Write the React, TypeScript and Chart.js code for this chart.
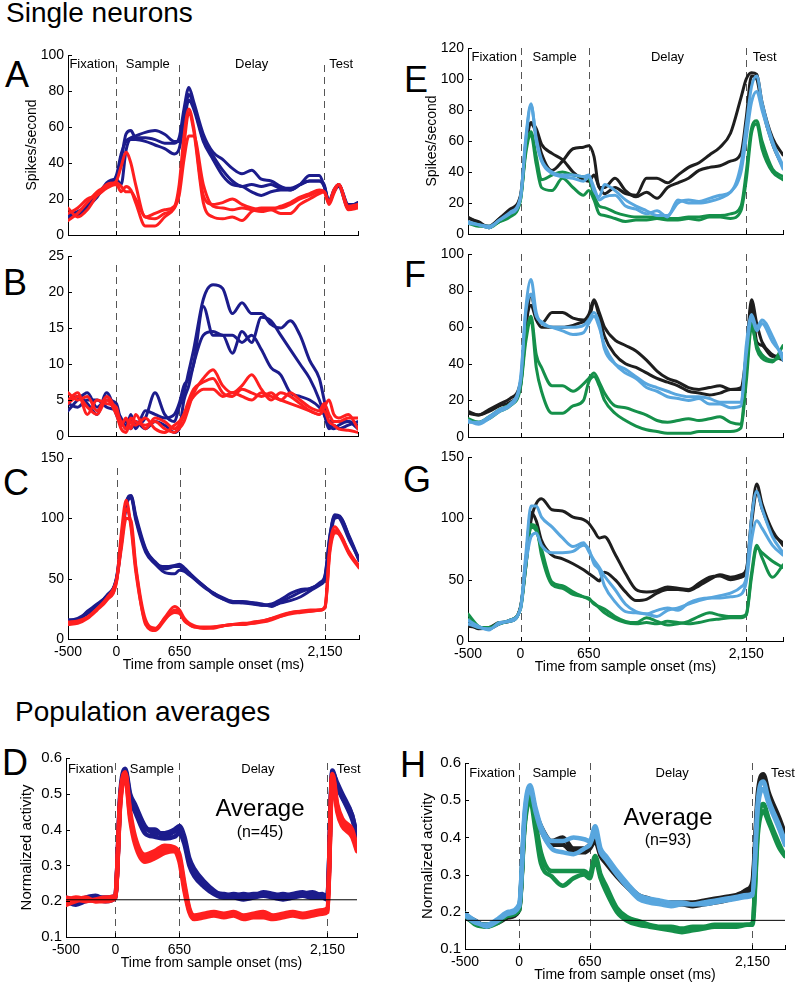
import React, { useEffect, useRef } from "react";
import { Chart, registerables } from "chart.js";

Chart.register(...registerables);

const FONT = '"Liberation Sans", Arial, Helvetica, sans-serif';

// ---------- time grids & axis ticks ----------
const TIME_MS = [-500, -400, -300, -200, -100, 0, 50, 100, 150, 200, 300, 400, 500, 600, 650, 700, 750, 800, 900, 1000, 1100, 1200, 1300, 1400, 1500, 1600, 1700, 1800, 1900, 2000, 2100, 2150, 2200, 2250, 2300, 2400, 2500];
const TIME_POP_MS = [-500, -400, -300, -200, -100, 0, 50, 100, 150, 200, 300, 400, 500, 600, 650, 700, 750, 800, 900, 1000, 1100, 1200, 1300, 1400, 1500, 1600, 1700, 1800, 1900, 2000, 2100, 2150, 2200, 2250, 2300, 2400, 2450];
const X_TICKS = [-500, 0, 650, 2150];
const X_TICK_LABELS = ["-500", "0", "650", "2,150"];
const EVENT_TIMES = [0, 650, 2150];
const PHASE_NAMES = ["Fixation", "Sample", "Delay", "Test"];

// ---------- Panel A (spikes/s) ----------
const A_BLUE_1 = [10, 12, 17, 23, 28, 32, 42, 56, 58, 54, 54, 53, 51, 51, 54, 70, 82, 74, 56, 46, 42, 37, 34, 36, 31, 30, 27, 25, 28, 33, 33, 27, 19, 25, 28, 16, 18];
const A_BLUE_2 = [12, 11, 15, 22, 27, 33, 45, 52, 54, 55, 57, 58, 56, 52, 52, 66, 78, 72, 53, 44, 36, 30, 27, 28, 27, 28, 26, 26, 28, 30, 30, 28, 18, 24, 28, 17, 17];
const A_BLUE_3 = [11, 13, 16, 21, 29, 31, 28, 47, 53, 53, 52, 50, 48, 45, 48, 62, 75, 70, 52, 42, 33, 28, 27, 24, 22, 24, 25, 25, 28, 30, 30, 27, 18, 24, 27, 15, 18];
const A_RED_1 = [8, 12, 18, 24, 27, 30, 38, 46, 40, 28, 10, 12, 14, 16, 28, 55, 70, 60, 22, 17, 18, 20, 17, 15, 14, 14, 16, 18, 21, 23, 25, 24, 18, 24, 28, 15, 16];
const A_RED_2 = [12, 15, 20, 22, 26, 28, 24, 27, 25, 18, 5, 5, 10, 15, 22, 42, 55, 55, 28, 16, 15, 14, 15, 14, 13, 14, 12, 12, 17, 20, 23, 24, 17, 23, 28, 14, 15];
const A_RED_3 = [15, 10, 14, 22, 28, 29, 27, 24, 24, 20, 10, 9, 12, 15, 25, 50, 68, 58, 18, 10, 9, 10, 8, 13, 15, 15, 15, 17, 20, 22, 24, 24, 18, 25, 28, 16, 17];

// ---------- Panel B ----------
const B_BLUE_1 = [3.5, 5, 6, 4, 5, 4.5, 2, 1.5, 2, 1.5, 2.5, 6, 3, 2, 4, 6, 9, 12, 19, 21, 20.5, 17, 18.5, 17, 17, 15.5, 15, 16, 14, 10.5, 8, 5, 2, 2, 2, 2, 1.5];
const B_BLUE_2 = [4.5, 4, 5, 5, 4, 3.5, 2.5, 1, 3, 1, 3.5, 3, 2.5, 3, 4.5, 7, 8, 10, 18, 14, 14, 11.5, 14.5, 13, 16.5, 16, 14, 12, 10, 8, 5, 3, 1.5, 1, 1.5, 2, 1];
const B_BLUE_3 = [5, 5.5, 4.5, 3, 6, 3, 1.5, 2, 1, 2, 1, 2, 1.5, 0.5, 1, 5, 7, 10, 14, 14.5, 14, 14, 13, 14, 12, 9.5, 8.5, 6, 5.5, 5, 4, 3, 1, 1.5, 1, 1.5, 2];
const B_RED_1 = [6, 5, 5.5, 3.5, 5.5, 3.5, 2, 1, 2.5, 2, 1.5, 2, 1, 0.5, 1, 2, 4, 6, 8, 9.2, 7, 6, 7, 8.5, 6.5, 5, 6, 5.5, 4.5, 3.5, 3, 4, 5, 3, 2.5, 3, 1];
const B_RED_2 = [5, 6, 3, 5, 4.5, 4, 1.5, 2.5, 1, 3, 1, 2.5, 2, 1, 1.5, 3, 5, 6.5, 7.5, 8, 6, 5.5, 6.5, 6, 5.5, 6, 5, 6, 5, 4, 3.5, 4.5, 3, 2, 2, 2.5, 2.5];
const B_RED_3 = [4.5, 5.5, 4, 3, 5, 3, 1, 0.5, 2, 1.5, 2.5, 1, 0.5, 1.5, 2, 3, 4.5, 5.5, 6.5, 6.5, 5.5, 6, 5.5, 5, 6, 5.5, 5, 4.5, 4, 3.5, 3, 3.5, 2, 1.5, 1, 0.8, 0.5];

// ---------- Panel C ----------
const C_BLUE_1 = [15, 17, 22, 28, 36, 50, 80, 112, 118, 100, 74, 64, 58, 60, 60, 57, 54, 50, 43, 38, 33, 30, 30, 30, 29, 27, 31, 35, 39, 42, 46, 52, 85, 102, 100, 82, 67];
const C_BLUE_2 = [14, 16, 21, 27, 35, 49, 78, 110, 117, 98, 72, 62, 55, 54, 57, 56, 53, 50, 44, 37, 33, 31, 30, 29, 28, 28, 30, 32, 35, 40, 45, 50, 82, 100, 101, 85, 66];
const C_BLUE_3 = [16, 16, 23, 29, 36, 51, 82, 113, 119, 102, 75, 63, 60, 61, 62, 59, 55, 51, 44, 38, 34, 31, 31, 30, 28, 29, 33, 38, 41, 42, 47, 53, 86, 103, 102, 84, 65];
const C_RED_1 = [13, 14, 18, 25, 33, 48, 88, 115, 92, 55, 14, 8, 18, 27, 24, 17, 13, 11, 9, 10, 11, 12, 12, 13, 15, 17, 20, 22, 23, 23, 24, 27, 78, 93, 88, 72, 60];
const C_RED_2 = [12, 13, 17, 24, 32, 47, 80, 108, 95, 58, 12, 7, 16, 24, 22, 16, 12, 10, 9, 9, 11, 12, 13, 13, 14, 16, 19, 22, 23, 24, 24, 26, 75, 90, 86, 70, 59];
const C_RED_3 = [14, 15, 18, 25, 34, 49, 75, 100, 98, 60, 16, 9, 17, 22, 21, 15, 12, 10, 10, 10, 11, 12, 12, 14, 15, 17, 19, 21, 22, 23, 24, 26, 72, 88, 87, 71, 61];

// ---------- Panel E ----------
const E_BLACK_1 = [11, 7, 5, 10, 15, 24, 55, 71, 65, 52, 41, 47, 55, 56, 57, 50, 30, 30, 36, 28, 24, 27, 23, 30, 33, 36, 41, 43, 44, 47, 52, 75, 102, 100, 82, 58, 43];
const E_BLACK_2 = [10, 8, 4, 10, 16, 25, 58, 72, 68, 58, 52, 48, 40, 35, 34, 38, 30, 26, 30, 26, 25, 36, 36, 33, 38, 43, 46, 51, 56, 65, 88, 100, 104, 103, 85, 62, 51];
const E_BLUE_1 = [8, 6, 4, 9, 14, 24, 60, 83, 62, 48, 40, 38, 38, 37, 38, 28, 24, 32, 28, 22, 18, 15, 12, 12, 20, 22, 21, 23, 25, 27, 45, 70, 95, 102, 85, 60, 44];
const E_BLUE_2 = [7, 6, 5, 9, 13, 23, 62, 84, 60, 47, 39, 37, 36, 34, 37, 30, 22, 24, 25, 18, 16, 13, 15, 11, 22, 20, 20, 21, 23, 27, 40, 62, 85, 92, 80, 58, 42];
const E_GREEN_1 = [7, 5, 5, 8, 12, 22, 55, 66, 50, 35, 38, 40, 38, 37, 36, 25, 18, 17, 14, 12, 11, 11, 11, 10, 10, 11, 11, 12, 12, 13, 18, 40, 68, 73, 60, 42, 37];
const E_GREEN_2 = [7, 6, 4, 8, 11, 22, 52, 64, 45, 30, 28, 36, 30, 25, 28, 22, 13, 12, 10, 8, 9, 9, 10, 9, 9, 10, 9, 11, 11, 10, 15, 35, 65, 71, 55, 40, 35];

// ---------- Panel F ----------
const F_BLACK_1 = [14, 12, 15, 18, 21, 30, 60, 78, 65, 62, 68, 68, 65, 64, 67, 75, 68, 60, 53, 50, 47, 42, 36, 32, 30, 27, 26, 27, 28, 26, 27, 45, 75, 62, 52, 45, 42];
const F_BLACK_2 = [13, 12, 14, 17, 19, 28, 60, 72, 64, 60, 60, 60, 61, 63, 64, 74, 66, 55, 45, 40, 38, 35, 32, 30, 28, 25, 24, 23, 24, 26, 26, 42, 72, 52, 50, 44, 45];
const F_BLUE_1 = [9, 7, 10, 14, 17, 30, 70, 86, 68, 62, 60, 58, 56, 57, 62, 66, 60, 50, 40, 35, 32, 27, 25, 22, 21, 20, 21, 18, 18, 16, 17, 50, 67, 60, 64, 55, 42];
const F_BLUE_2 = [8, 8, 11, 15, 18, 32, 68, 78, 66, 63, 60, 60, 60, 61, 64, 68, 62, 48, 40, 37, 33, 29, 27, 25, 23, 22, 22, 21, 19, 19, 19, 45, 65, 58, 62, 52, 45];
const F_GREEN_1 = [10, 8, 11, 15, 18, 28, 55, 66, 45, 38, 28, 28, 25, 29, 32, 35, 30, 24, 17, 16, 14, 12, 9, 8, 9, 10, 9, 10, 11, 8, 7, 35, 63, 48, 43, 41, 50];
const F_GREEN_2 = [9, 8, 10, 14, 17, 27, 52, 64, 38, 25, 13, 13, 17, 20, 30, 33, 28, 20, 13, 9, 6, 4, 3, 2, 2, 2, 3, 3, 3, 3, 5, 30, 60, 50, 45, 42, 44];

// ---------- Panel G ----------
const G_BLACK_1 = [15, 10, 11, 15, 16, 28, 60, 98, 112, 116, 107, 106, 101, 99, 96, 90, 84, 85, 71, 55, 42, 40, 41, 44, 43, 42, 47, 52, 53, 50, 52, 56, 100, 128, 112, 90, 78];
const G_BLACK_2 = [12, 11, 10, 14, 17, 27, 65, 105, 98, 82, 70, 67, 63, 58, 55, 52, 49, 56, 50, 40, 33, 34, 39, 42, 42, 41, 45, 50, 54, 52, 54, 58, 95, 122, 108, 88, 80];
const G_BLUE_1 = [17, 12, 9, 15, 16, 27, 70, 110, 110, 101, 93, 84, 77, 80, 73, 66, 60, 53, 42, 30, 24, 22, 20, 25, 27, 30, 33, 35, 37, 39, 44, 52, 100, 122, 108, 85, 72];
const G_BLUE_2 = [14, 11, 10, 14, 17, 26, 62, 85, 88, 78, 72, 72, 73, 78, 75, 63, 58, 45, 32, 24, 23, 22, 25, 27, 25, 31, 34, 35, 35, 36, 38, 48, 82, 98, 92, 78, 70];
const G_GREEN_1 = [22, 12, 10, 15, 16, 27, 62, 93, 90, 75, 48, 45, 40, 36, 35, 30, 28, 26, 20, 16, 15, 19, 16, 13, 14, 16, 20, 23, 21, 20, 20, 22, 55, 78, 68, 52, 62];
const G_GREEN_2 = [18, 11, 11, 14, 17, 26, 60, 95, 93, 70, 46, 43, 38, 36, 34, 31, 27, 23, 18, 15, 14, 15, 14, 16, 15, 14, 15, 17, 18, 19, 19, 21, 52, 76, 72, 65, 60];

// ---------- Panel D (normalized) ----------
const D_BLUE_1 = [0.21, 0.2, 0.21, 0.215, 0.205, 0.21, 0.5, 0.57, 0.5, 0.47, 0.41, 0.39, 0.39, 0.4, 0.41, 0.38, 0.32, 0.29, 0.255, 0.23, 0.215, 0.22, 0.215, 0.22, 0.22, 0.215, 0.22, 0.215, 0.22, 0.225, 0.215, 0.215, 0.56, 0.53, 0.5, 0.44, 0.38];
const D_BLUE_2 = [0.205, 0.195, 0.205, 0.21, 0.21, 0.215, 0.49, 0.565, 0.49, 0.46, 0.4, 0.4, 0.38, 0.395, 0.4, 0.37, 0.31, 0.28, 0.25, 0.225, 0.22, 0.215, 0.22, 0.215, 0.225, 0.22, 0.215, 0.22, 0.225, 0.215, 0.22, 0.21, 0.565, 0.52, 0.49, 0.43, 0.385];
const D_BLUE_3 = [0.2, 0.19, 0.2, 0.205, 0.2, 0.21, 0.48, 0.56, 0.48, 0.45, 0.39, 0.38, 0.375, 0.38, 0.39, 0.36, 0.3, 0.27, 0.24, 0.22, 0.21, 0.21, 0.205, 0.21, 0.215, 0.21, 0.205, 0.21, 0.215, 0.21, 0.21, 0.205, 0.55, 0.52, 0.49, 0.44, 0.375];
const D_RED_1 = [0.21, 0.205, 0.2, 0.205, 0.21, 0.215, 0.49, 0.56, 0.45, 0.38, 0.33, 0.34, 0.355, 0.35, 0.33, 0.25, 0.18, 0.16, 0.165, 0.17, 0.165, 0.17, 0.16, 0.165, 0.17, 0.16, 0.165, 0.17, 0.165, 0.17, 0.175, 0.18, 0.555, 0.47, 0.43, 0.4, 0.35];
const D_RED_2 = [0.2, 0.21, 0.205, 0.2, 0.205, 0.21, 0.48, 0.555, 0.44, 0.37, 0.32, 0.33, 0.345, 0.345, 0.32, 0.24, 0.175, 0.155, 0.16, 0.165, 0.16, 0.165, 0.155, 0.16, 0.16, 0.155, 0.16, 0.165, 0.16, 0.165, 0.17, 0.175, 0.55, 0.46, 0.42, 0.39, 0.345];
const D_RED_3 = [0.19, 0.2, 0.21, 0.2, 0.2, 0.21, 0.47, 0.55, 0.43, 0.36, 0.31, 0.32, 0.335, 0.34, 0.31, 0.23, 0.17, 0.15, 0.155, 0.16, 0.155, 0.16, 0.15, 0.155, 0.155, 0.15, 0.155, 0.16, 0.155, 0.16, 0.165, 0.17, 0.545, 0.45, 0.41, 0.38, 0.34];
const D_BASELINE = 0.204;

// ---------- Panel H ----------
const H_BLACK_1 = [0.19, 0.175, 0.16, 0.175, 0.19, 0.21, 0.45, 0.53, 0.47, 0.43, 0.39, 0.4, 0.37, 0.37, 0.38, 0.4, 0.36, 0.34, 0.3, 0.27, 0.245, 0.235, 0.225, 0.22, 0.22, 0.215, 0.22, 0.225, 0.23, 0.24, 0.26, 0.28, 0.52, 0.57, 0.52, 0.45, 0.41];
const H_BLACK_2 = [0.185, 0.17, 0.165, 0.17, 0.185, 0.205, 0.44, 0.52, 0.46, 0.42, 0.38, 0.38, 0.36, 0.36, 0.37, 0.39, 0.35, 0.33, 0.295, 0.265, 0.24, 0.23, 0.225, 0.225, 0.225, 0.225, 0.23, 0.235, 0.24, 0.245, 0.255, 0.27, 0.5, 0.56, 0.5, 0.44, 0.4];
const H_BLUE_1 = [0.195, 0.175, 0.16, 0.175, 0.195, 0.215, 0.47, 0.54, 0.48, 0.43, 0.39, 0.39, 0.4, 0.395, 0.39, 0.43, 0.37, 0.35, 0.31, 0.275, 0.245, 0.235, 0.23, 0.225, 0.225, 0.22, 0.225, 0.23, 0.235, 0.24, 0.245, 0.25, 0.5, 0.55, 0.5, 0.43, 0.39];
const H_BLUE_2 = [0.19, 0.17, 0.165, 0.18, 0.2, 0.22, 0.46, 0.53, 0.47, 0.42, 0.37, 0.36, 0.355, 0.37, 0.38, 0.41, 0.36, 0.34, 0.3, 0.265, 0.235, 0.225, 0.22, 0.215, 0.22, 0.22, 0.22, 0.225, 0.23, 0.235, 0.24, 0.245, 0.48, 0.53, 0.49, 0.42, 0.38];
const H_GREEN_1 = [0.195, 0.17, 0.165, 0.175, 0.19, 0.21, 0.44, 0.52, 0.44, 0.36, 0.31, 0.31, 0.31, 0.31, 0.3, 0.35, 0.3, 0.27, 0.21, 0.185, 0.175, 0.165, 0.16, 0.16, 0.155, 0.16, 0.16, 0.165, 0.165, 0.165, 0.165, 0.17, 0.43, 0.49, 0.45, 0.38, 0.35];
const H_GREEN_2 = [0.19, 0.165, 0.16, 0.17, 0.19, 0.205, 0.43, 0.5, 0.42, 0.33, 0.295, 0.27, 0.29, 0.3, 0.29, 0.34, 0.29, 0.255, 0.2, 0.175, 0.165, 0.16, 0.155, 0.15, 0.145, 0.15, 0.155, 0.16, 0.16, 0.16, 0.165, 0.165, 0.41, 0.47, 0.44, 0.37, 0.35];
const H_BASELINE = 0.177;

// ---------- colours ----------
const NAVY = "#1c1c8c";
const RED = "#ff1f1f";
const BLACK = "#1e1e1e";
const LBLUE = "#58a6de";
const GREEN = "#15904a";

type Series = { values: number[]; color: string };

type PanelProps = {
  plotLeft: number;
  plotTop: number;
  plotRight: number;
  plotBottom: number;
  canvasLeft: number;
  times: number[];
  xMax: number;
  yMin: number;
  yMax: number;
  yStep: number;
  decimals: boolean;
  yFont: number;
  yTitle?: string;
  yTitleFont?: number;
  yTitleOffset?: number;
  xLabels: boolean;
  series: Series[];
  lineWidth: number;
  baseline?: number;
  phasePos?: number[];
  phaseY?: number;
  dashTop: number;
};

function Panel(p: PanelProps) {
  const ref = useRef<HTMLCanvasElement | null>(null);
  const padT = 14;
  const padR = 18;
  const axW = p.plotLeft - p.canvasLeft;
  const xAxH = p.xLabels ? 44 : 4;
  const padB = p.xLabels ? 2 : 10;
  const width = axW + (p.plotRight - p.plotLeft) + padR;
  const height = padT + (p.plotBottom - p.plotTop) + xAxH + padB;

  useEffect(() => {
    const canvas = ref.current;
    if (!canvas) return;
    const datasets: any[] = p.series.map((s) => ({
      data: p.times.map((t, i) => ({ x: t, y: s.values[i] })),
      borderColor: s.color,
      backgroundColor: s.color,
      borderWidth: p.lineWidth,
      pointRadius: 0,
      cubicInterpolationMode: "monotone",
      fill: false,
      order: 1,
      borderJoinStyle: "round",
      borderCapStyle: "round",
    }));
    if (p.baseline !== undefined) {
      datasets.push({
        data: [
          { x: p.times[0], y: p.baseline },
          { x: p.xMax, y: p.baseline },
        ],
        borderColor: "#000",
        borderWidth: 1,
        pointRadius: 0,
        fill: false,
        order: 0,
      });
    }
    const decor = {
      id: "decor",
      beforeDatasetsDraw(chart: any) {
        const { ctx, chartArea, scales } = chart;
        ctx.save();
        ctx.strokeStyle = "#555";
        ctx.lineWidth = 1;
        ctx.setLineDash([7, 5]);
        EVENT_TIMES.forEach((e) => {
          const x = Math.round(scales.x.getPixelForValue(e)) + 0.5;
          ctx.beginPath();
          ctx.moveTo(x, chartArea.top + p.dashTop);
          ctx.lineTo(x, chartArea.bottom);
          ctx.stroke();
        });
        ctx.restore();
      },
      afterDatasetsDraw(chart: any) {
        if (!p.phasePos) return;
        const { ctx, chartArea, scales } = chart;
        ctx.save();
        ctx.fillStyle = "#000";
        ctx.font = `13px ${FONT}`;
        ctx.textAlign = "center";
        ctx.textBaseline = "middle";
        PHASE_NAMES.forEach((name, i) => {
          ctx.fillText(name, scales.x.getPixelForValue(p.phasePos![i]), chartArea.top + (p.phaseY ?? 9));
        });
        ctx.restore();
      },
      afterDraw(chart: any) {
        const { ctx, chartArea, scales } = chart;
        ctx.save();
        ctx.strokeStyle = "#000";
        ctx.lineWidth = 1;
        scales.y.ticks.forEach((t: any) => {
          const y = Math.round(scales.y.getPixelForValue(t.value)) + 0.5;
          ctx.beginPath();
          ctx.moveTo(chartArea.left, y);
          ctx.lineTo(chartArea.left + 4, y);
          ctx.stroke();
        });
        [...X_TICKS, p.xMax].forEach((v) => {
          const x = Math.round(scales.x.getPixelForValue(v)) + 0.5;
          ctx.beginPath();
          ctx.moveTo(x, chartArea.bottom);
          ctx.lineTo(x, chartArea.bottom - 4);
          ctx.stroke();
        });
        ctx.restore();
      },
    };
    const yTitleFont = p.yTitleFont ?? 14;
    const chart = new Chart(canvas, {
      type: "line",
      data: { datasets },
      options: {
        animation: false,
        responsive: false,
        devicePixelRatio: 1,
        events: [],
        layout: { padding: { top: padT, right: padR, bottom: padB, left: 0 } },
        plugins: { legend: { display: false }, tooltip: { enabled: false } },
        scales: {
          x: {
            type: "linear",
            min: -500,
            max: p.xMax,
            grid: { display: false, drawTicks: false },
            border: { display: true, color: "#000", width: 1 },
            ticks: {
              display: p.xLabels,
              autoSkip: false,
              maxRotation: 0,
              minRotation: 0,
              padding: 5,
              color: "#000",
              font: { family: FONT, size: 14 },
              callback: (v: any) => {
                const k = X_TICKS.indexOf(Number(v));
                return k >= 0 ? X_TICK_LABELS[k] : "";
              },
            },
            afterBuildTicks: (s: any) => {
              s.ticks = X_TICKS.map((v) => ({ value: v }));
            },
            title: {
              display: p.xLabels,
              text: "Time from sample onset (ms)",
              color: "#000",
              font: { family: FONT, size: 14, lineHeight: 1.2 },
              padding: { top: 0, bottom: 9 },
            },
            afterFit: (s: any) => {
              s.height = xAxH;
            },
          },
          y: {
            min: p.yMin,
            max: p.yMax,
            grid: { display: false, drawTicks: false },
            border: { display: true, color: "#000", width: 1 },
            ticks: {
              stepSize: p.yStep,
              padding: 4,
              color: "#000",
              font: { family: FONT, size: p.yFont },
              callback: (v: any) => (p.decimals ? Number(v).toFixed(1) : String(Math.round(Number(v)))),
            },
            title: {
              display: !!p.yTitle,
              text: p.yTitle ?? "",
              color: "#000",
              font: { family: FONT, size: yTitleFont, lineHeight: 1.2 },
              padding: { top: (p.yTitleOffset ?? 30) - yTitleFont * 0.6, bottom: 0 },
            },
            afterFit: (s: any) => {
              s.width = axW;
            },
          },
        },
      } as any,
      plugins: [decor as any],
    });
    return () => chart.destroy();
  }, []);

  return (
    <canvas
      ref={ref}
      width={width}
      height={height}
      style={{ position: "absolute", left: p.canvasLeft, top: p.plotTop - padT, width, height }}
    />
  );
}

const letterStyle = (left: number, top: number): React.CSSProperties => ({
  position: "absolute",
  left,
  top,
  fontSize: 36,
  lineHeight: "36px",
  fontFamily: FONT,
  color: "#000",
});

const textStyle = (left: number, top: number, size: number, width?: number): React.CSSProperties => ({
  position: "absolute",
  left,
  top,
  fontSize: size,
  lineHeight: `${size}px`,
  fontFamily: FONT,
  color: "#000",
  whiteSpace: "nowrap",
  width,
  textAlign: width ? "center" : "left",
});

const PHASES_SINGLE = [-250, 325, 1400, 2325];
const PHASES_D = [-250, 370, 1445, 2365];
const PHASES_H = [-250, 325, 1410, 2430];

export default function App() {
  const redBlue = (r: number[][], b: number[][]): Series[] => [
    ...r.map((v) => ({ values: v, color: RED })),
    ...b.map((v) => ({ values: v, color: NAVY })),
  ];
  const threeColour = (bl: number[][], g: number[][], k: number[][]): Series[] => [
    ...bl.map((v) => ({ values: v, color: LBLUE })),
    ...g.map((v) => ({ values: v, color: GREEN })),
    ...k.map((v) => ({ values: v, color: BLACK })),
  ];

  return (
    <div
      style={{
        position: "fixed",
        left: 0,
        top: 0,
        width: 800,
        height: 984,
        overflow: "hidden",
        background: "#fff",
        fontFamily: FONT,
      }}
    >
      <div style={textStyle(6, -1, 28)}>Single neurons</div>
      <div style={textStyle(15, 698, 28)}>Population averages</div>

      <div style={letterStyle(5, 57)}>A</div>
      <div style={letterStyle(3, 265)}>B</div>
      <div style={letterStyle(3, 465)}>C</div>
      <div style={letterStyle(404, 62)}>E</div>
      <div style={letterStyle(404, 257)}>F</div>
      <div style={letterStyle(403, 462)}>G</div>
      <div style={letterStyle(2, 745)}>D</div>
      <div style={letterStyle(400, 747)}>H</div>

      <Panel
        plotLeft={68} plotTop={55} plotRight={358} plotBottom={235} canvasLeft={0}
        times={TIME_MS} xMax={2500} yMin={0} yMax={100} yStep={20} decimals={false} yFont={14}
        yTitle="Spikes/second" yTitleOffset={32} xLabels={false}
        series={redBlue([A_RED_1, A_RED_2, A_RED_3], [A_BLUE_1, A_BLUE_2, A_BLUE_3])}
        lineWidth={3} phasePos={PHASES_SINGLE} phaseY={9} dashTop={10}
      />
      <Panel
        plotLeft={68} plotTop={256} plotRight={358} plotBottom={436} canvasLeft={0}
        times={TIME_MS} xMax={2500} yMin={0} yMax={25} yStep={5} decimals={false} yFont={14}
        xLabels={false}
        series={redBlue([B_RED_1, B_RED_2, B_RED_3], [B_BLUE_1, B_BLUE_2, B_BLUE_3])}
        lineWidth={3} dashTop={9}
      />
      <Panel
        plotLeft={68} plotTop={458} plotRight={359} plotBottom={639} canvasLeft={0}
        times={TIME_MS} xMax={2500} yMin={0} yMax={150} yStep={50} decimals={false} yFont={14}
        xLabels={true}
        series={redBlue([C_RED_1, C_RED_2, C_RED_3], [C_BLUE_1, C_BLUE_2, C_BLUE_3])}
        lineWidth={3} dashTop={10}
      />
      <Panel
        plotLeft={468} plotTop={48} plotRight={783} plotBottom={234} canvasLeft={400}
        times={TIME_MS} xMax={2500} yMin={0} yMax={120} yStep={20} decimals={false} yFont={14}
        yTitle="Spikes/second" yTitleOffset={32} xLabels={false}
        series={threeColour([E_BLUE_1, E_BLUE_2], [E_GREEN_1, E_GREEN_2], [E_BLACK_1, E_BLACK_2])}
        lineWidth={3} phasePos={PHASES_SINGLE} phaseY={9} dashTop={0}
      />
      <Panel
        plotLeft={468} plotTop={254} plotRight={783} plotBottom={437} canvasLeft={400}
        times={TIME_MS} xMax={2500} yMin={0} yMax={100} yStep={20} decimals={false} yFont={14}
        xLabels={false}
        series={threeColour([F_BLUE_1, F_BLUE_2], [F_GREEN_1, F_GREEN_2], [F_BLACK_1, F_BLACK_2])}
        lineWidth={3} dashTop={0}
      />
      <Panel
        plotLeft={468} plotTop={457} plotRight={783} plotBottom={641} canvasLeft={400}
        times={TIME_MS} xMax={2500} yMin={0} yMax={150} yStep={50} decimals={false} yFont={14}
        xLabels={true}
        series={threeColour([G_BLUE_1, G_BLUE_2], [G_GREEN_1, G_GREEN_2], [G_BLACK_1, G_BLACK_2])}
        lineWidth={3} dashTop={0}
      />
      <Panel
        plotLeft={66} plotTop={758} plotRight={357} plotBottom={937} canvasLeft={0}
        times={TIME_POP_MS} xMax={2450} yMin={0.1} yMax={0.6} yStep={0.1} decimals={true} yFont={15}
        yTitle="Normalized activity" yTitleFont={15} yTitleOffset={27} xLabels={true}
        series={redBlue([D_RED_1, D_RED_2, D_RED_3], [D_BLUE_1, D_BLUE_2, D_BLUE_3])}
        lineWidth={4.5} baseline={D_BASELINE} phasePos={PHASES_D} phaseY={11} dashTop={5}
      />
      <Panel
        plotLeft={465} plotTop={763} plotRight={785} plotBottom={949} canvasLeft={400}
        times={TIME_POP_MS} xMax={2450} yMin={0.1} yMax={0.6} yStep={0.1} decimals={true} yFont={15}
        yTitle="Normalized activity" yTitleFont={15} yTitleOffset={28} xLabels={true}
        series={threeColour([H_BLUE_1, H_BLUE_2], [H_GREEN_1, H_GREEN_2], [H_BLACK_1, H_BLACK_2])}
        lineWidth={4.5} baseline={H_BASELINE} phasePos={PHASES_H} phaseY={10} dashTop={0}
      />

      <div style={textStyle(160, 796, 24, 200)}>Average</div>
      <div style={textStyle(160, 824, 16, 200)}>(n=45)</div>
      <div style={textStyle(568, 805, 24, 200)}>Average</div>
      <div style={textStyle(568, 832, 16, 200)}>(n=93)</div>
    </div>
  );
}
